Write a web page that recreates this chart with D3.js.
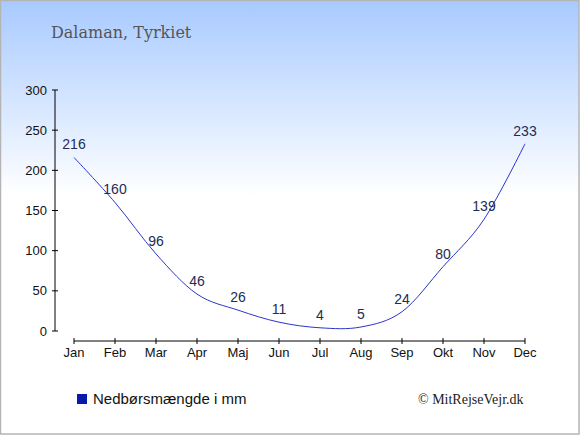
<!DOCTYPE html>
<html>
<head>
<meta charset="utf-8">
<script src="https://cdn.jsdelivr.net/npm/d3@7"></script>
<style>
  body { margin: 0; padding: 0; background: #fff; }
  svg { display: block; }
</style>
</head>
<body>
<div id="chart"></div>
<script>
// Precipitation per month, Dalaman
const months = ["Jan", "Feb", "Mar", "Apr", "Maj", "Jun", "Jul", "Aug", "Sep", "Okt", "Nov", "Dec"];
const rain = [216, 160, 96, 46, 26, 11, 4, 5, 24, 80, 139, 233];
const yTicks = [0, 50, 100, 150, 200, 250, 300];

const width = 580;
const height = 435;

const svg = d3.select("#chart")
    .append("svg")
    .attr("width", width)
    .attr("height", height);

// background gradient
const defs = svg.append("defs");
const grad = defs.append("linearGradient")
    .attr("id", "bg")
    .attr("x1", 0).attr("y1", 0)
    .attr("x2", 0).attr("y2", 1);
grad.append("stop").attr("offset", "0%").attr("stop-color", "#a8caff");
grad.append("stop").attr("offset", "45%").attr("stop-color", "#ffffff");
grad.append("stop").attr("offset", "100%").attr("stop-color", "#ffffff");

svg.append("rect")
    .attr("x", 0.5).attr("y", 0.5)
    .attr("width", width - 1.5).attr("height", height - 1.5)
    .attr("fill", "url(#bg)")
    .attr("stroke", "#b4b4b4")
    .attr("stroke-width", 1.5);

// title
svg.append("text")
    .attr("x", 51)
    .attr("y", 38)
    .attr("font-family", "DejaVu Serif")
    .attr("font-size", 16)
    .attr("fill", "#555")
    .text("Dalaman, Tyrkiet");

const x = d3.scalePoint()
    .domain(months)
    .range([74, 525]);

const y = d3.scaleLinear()
    .domain([0, 300])
    .range([331, 90]);

// y axis
const yAxis = svg.append("g").attr("class", "y-axis");
yAxis.append("line")
    .attr("x1", 55).attr("x2", 55)
    .attr("y1", y(300)).attr("y2", y(0))
    .attr("stroke", "#000");
yAxis.selectAll(".tick")
    .data(yTicks)
    .join("line")
    .attr("class", "tick")
    .attr("x1", 52).attr("x2", 58)
    .attr("y1", d => y(d)).attr("y2", d => y(d))
    .attr("stroke", "#000");
yAxis.selectAll(".lbl")
    .data(yTicks)
    .join("text")
    .attr("class", "lbl")
    .attr("x", 47)
    .attr("y", d => y(d) + 4.5)
    .attr("text-anchor", "end")
    .attr("font-family", "Liberation Sans, Arial, sans-serif")
    .attr("font-size", 13)
    .attr("fill", "#111")
    .text(d => d);

// x axis
const xAxis = svg.append("g").attr("class", "x-axis");
xAxis.append("line")
    .attr("x1", x("Jan")).attr("x2", x("Dec"))
    .attr("y1", 341).attr("y2", 341)
    .attr("stroke", "#000");
xAxis.selectAll(".tick")
    .data(months)
    .join("line")
    .attr("class", "tick")
    .attr("x1", d => x(d)).attr("x2", d => x(d))
    .attr("y1", 338).attr("y2", 344)
    .attr("stroke", "#000");
xAxis.selectAll(".lbl")
    .data(months)
    .join("text")
    .attr("class", "lbl")
    .attr("x", d => x(d))
    .attr("y", 357)
    .attr("text-anchor", "middle")
    .attr("font-family", "Liberation Sans, Arial, sans-serif")
    .attr("font-size", 13)
    .attr("fill", "#111")
    .text(d => d);

// line
const line = d3.line()
    .x((d, i) => x(months[i]))
    .y(d => y(d))
    .curve(d3.curveCardinal);

svg.append("path")
    .datum(rain)
    .attr("d", line)
    .attr("fill", "none")
    .attr("stroke", "#2a35cc")
    .attr("stroke-width", 1);

// value labels
svg.selectAll(".val")
    .data(rain)
    .join("text")
    .attr("class", "val")
    .attr("x", (d, i) => x(months[i]))
    .attr("y", d => y(d) - 8)
    .attr("text-anchor", "middle")
    .attr("font-family", "Liberation Sans, Arial, sans-serif")
    .attr("font-size", 14)
    .attr("fill", "#1c2d55")
    .text(d => d);

// legend
svg.append("rect")
    .attr("x", 77).attr("y", 394)
    .attr("width", 10).attr("height", 10)
    .attr("fill", "#0a1aa8");
svg.append("text")
    .attr("x", 93)
    .attr("y", 404)
    .attr("font-family", "Liberation Sans, Arial, sans-serif")
    .attr("font-size", 15)
    .attr("fill", "#111")
    .text("Nedbørsmængde i mm");

// credit
svg.append("text")
    .attr("x", 418)
    .attr("y", 404)
    .attr("font-family", "Liberation Serif, Times New Roman, serif")
    .attr("font-size", 14)
    .attr("fill", "#222")
    .text("© MitRejseVejr.dk");
</script>
</body>
</html>
